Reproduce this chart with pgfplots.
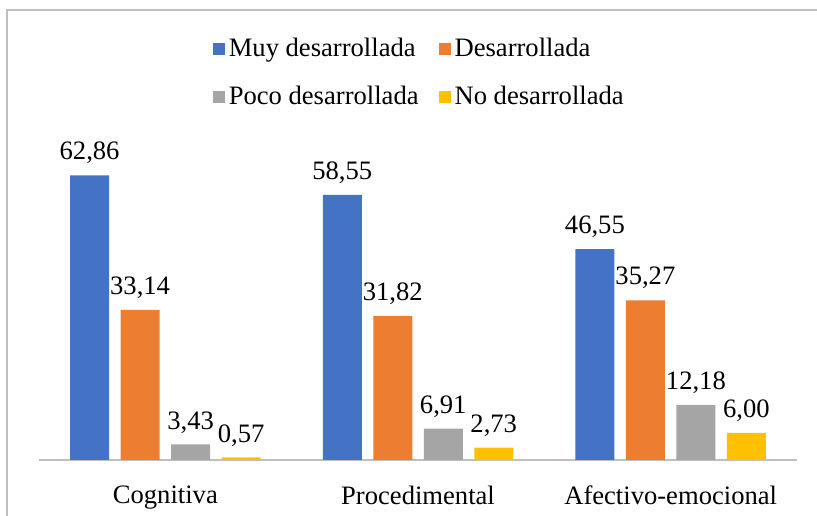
\documentclass[border=0pt]{standalone}
\usepackage{pgfplots}
\pgfplotsset{compat=1.18}
\usepackage{fontspec}
\setmainfont{Liberation Serif}
\definecolor{cblue}{HTML}{4472C4}
\definecolor{corange}{HTML}{ED7D31}
\definecolor{cgray}{HTML}{A5A5A5}
\definecolor{cyellow}{HTML}{FFC000}
\definecolor{frame}{HTML}{BFBFBF}
\definecolor{axisc}{HTML}{BFBFBF}
\begin{document}
\fontsize{13.3bp}{16bp}\selectfont
\begin{tikzpicture}
\useasboundingbox (0,0) rectangle (408.5bp,258bp);
\draw[frame, line width=0.9bp] (3.5bp,-2bp) -- (3.5bp,253bp) -- (412bp,253bp);
\begin{axis}[
  at={(19.5bp,28bp)}, anchor=south west,
  scale only axis,
  width=379bp, height=158.5bp,
  ybar=5.75bp, bar width=19.5bp,
  xmin=-0.5, xmax=2.5, ymin=0, ymax=70,
  xtick={0,1,2},
  xticklabels={Cognitiva,Procedimental,Afectivo-emocional},
  xtick style={draw=none},
  ytick=\empty,
  axis x line*=bottom,
  axis y line=none,
  x axis line style={axisc, line width=0.9bp},
  xticklabel style={font=\fontsize{13.3bp}{16bp}\selectfont, yshift=-4bp},
  nodes near coords,
  nodes near coords style={font=\fontsize{13.3bp}{16bp}\selectfont, yshift=1bp, text=black,
    /pgf/number format/fixed, /pgf/number format/fixed zerofill,
    /pgf/number format/precision=2, /pgf/number format/use comma,
    /pgf/number format/assume math mode=true},
  legend columns=2,
  legend cell align=left,
  legend style={draw=none, fill=none, at={(0.503,1.22)}, anchor=center,
    font=\fontsize{13.3bp}{16bp}\selectfont,
    /tikz/every even column/.append style={column sep=8bp},
    row sep=9bp},
  legend image code/.code={\fill[#1] (0bp,-3bp) rectangle (6bp,3bp);},
]
\addplot[draw=none, fill=cblue] coordinates {(0,62.86) (1,58.55) (2,46.55)};
\addplot[draw=none, fill=corange] coordinates {(0,33.14) (1,31.82) (2,35.27)};
\addplot[draw=none, fill=cgray] coordinates {(0,3.43) (1,6.91) (2,12.18)};
\addplot[draw=none, fill=cyellow] coordinates {(0,0.57) (1,2.73) (2,6.00)};
\legend{Muy desarrollada,Desarrollada,Poco desarrollada,No desarrollada}
\end{axis}
\end{tikzpicture}
\end{document}
